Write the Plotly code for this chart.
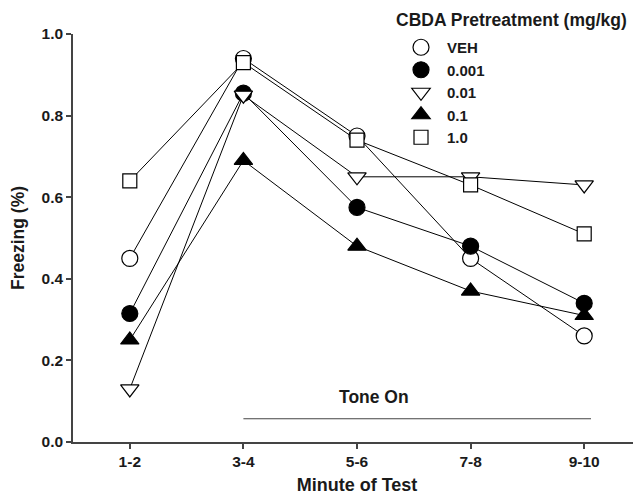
import plotly.graph_objects as go

categories = ["1-2", "3-4", "5-6", "7-8", "9-10"]
veh = [0.45, 0.94, 0.75, 0.45, 0.26]
d0001 = [0.315, 0.855, 0.575, 0.48, 0.34]
d001 = [0.13, 0.85, 0.65, 0.65, 0.63]
d01 = [0.25, 0.69, 0.48, 0.37, 0.31]
d10 = [0.64, 0.93, 0.74, 0.63, 0.51]
series_names = ["VEH", "0.001", "0.01", "0.1", "1.0"]
y_ticks = [0.0, 0.2, 0.4, 0.6, 0.8, 1.0]

styles = [
    dict(symbol="circle", size=16, color="white"),
    dict(symbol="circle", size=16, color="black"),
    dict(symbol="triangle-down", size=16, color="white"),
    dict(symbol="triangle-up", size=16, color="black"),
    dict(symbol="square", size=14, color="white"),
]

fig = go.Figure()
xs = list(range(len(categories)))
for name, vals, st in zip(series_names, [veh, d0001, d001, d01, d10], styles):
    fig.add_trace(go.Scatter(
        x=xs, y=vals, mode="lines+markers", name=name, showlegend=False,
        line=dict(color="black", width=1),
        marker=dict(symbol=st["symbol"], size=st["size"], color=st["color"],
                    line=dict(color="black", width=1.2)),
        cliponaxis=False,
    ))
for name, st in zip(series_names, styles):
    fig.add_trace(go.Scatter(
        x=[None], y=[None], mode="markers", name=name, showlegend=True,
        marker=dict(symbol=st["symbol"], size=st["size"], color=st["color"],
                    line=dict(color="black", width=1.2)),
    ))

# page has an 8px body margin; compensate so the plot lands where the reference has it
W, H = 633, 488
L, T, B = 65, 26, 54
PW, PH = W - L, H - T - B

font_family = "Liberation Sans, Arial, sans-serif"
fig.update_layout(
    width=W, height=H,
    margin=dict(l=L, r=0, t=T, b=B),
    plot_bgcolor="white", paper_bgcolor="white",
    font=dict(family=font_family, color="#1a1a1a"),
    showlegend=True,
    legend=dict(x=(395 - 73) / PW, y=1 + 3 / PH, xanchor="left", yanchor="top",
                font=dict(size=15, family=font_family, color="#1a1a1a", weight="bold"),
                bgcolor="rgba(0,0,0,0)", tracegroupgap=0, itemwidth=42),
    xaxis=dict(
        range=[-0.5, 4.5], tickvals=xs, ticktext=categories,
        showline=True, linecolor="#444", linewidth=1.5,
        ticks="outside", ticklen=5, tickcolor="#444", tickwidth=1.5,
        showgrid=False, zeroline=False,
        tickfont=dict(size=15.5, weight="bold"),
        title=dict(text="Minute of Test", font=dict(size=18, weight="bold"), standoff=9),
    ),
    yaxis=dict(
        range=[0, 1.0], tickvals=y_ticks, tickformat=".1f",
        showline=True, linecolor="#444", linewidth=1.5,
        ticks="outside", ticklen=5, tickcolor="#444", tickwidth=1.5,
        showgrid=False, zeroline=False,
        tickfont=dict(size=15.5, weight="bold"),
        title=dict(text="Freezing (%)", font=dict(size=17.5, weight="bold"), standoff=14),
    ),
)

fig.add_shape(type="line", xref="x", yref="y", x0=1, x1=4.06, y0=0.057, y1=0.057,
              line=dict(color="#444", width=1.2))
fig.add_annotation(x=2.15, y=0.057, xref="x", yref="y", text="Tone On",
                   showarrow=False, yanchor="bottom", yshift=10,
                   font=dict(size=17.5, weight="bold"))
fig.add_annotation(x=(394 - 73) / PW, y=1 + (34 - 20) / PH, xref="paper", yref="paper",
                   text="CBDA Pretreatment (mg/kg)",
                   showarrow=False, xanchor="left", yanchor="middle",
                   font=dict(size=17.5, weight="bold"))

fig.write_html("out.html")
